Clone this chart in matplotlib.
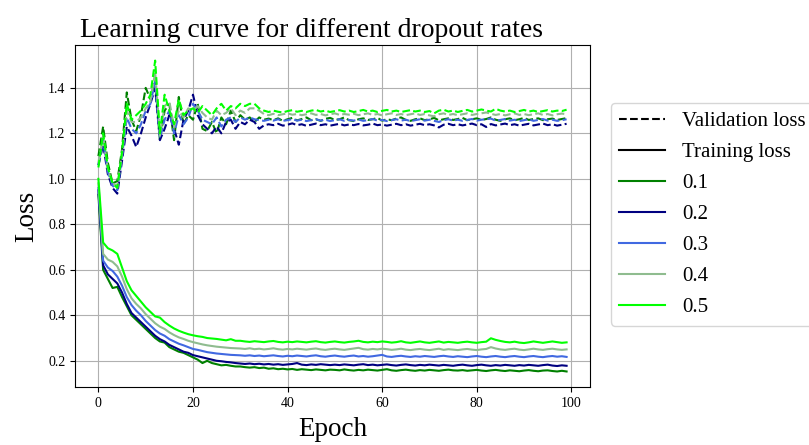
import matplotlib
matplotlib.use("Agg")
import matplotlib.pyplot as plt
from matplotlib.lines import Line2D

plt.rcParams["font.family"] = ["Liberation Serif", "DejaVu Serif"]

epochs = list(range(100))
dropout_rates = ["0.1", "0.2", "0.3", "0.4", "0.5"]
colors = ["green", "navy", "royalblue", "darkseagreen", "lime"]

# training loss per dropout rate (epochs 0-99)
train_01 = [
    0.93, 0.60, 0.56, 0.52, 0.525, 0.48, 0.44, 0.40, 0.38, 0.36,
    0.34, 0.32, 0.30, 0.285, 0.28, 0.26, 0.25, 0.24, 0.235, 0.225,
    0.215, 0.205, 0.19, 0.20, 0.19, 0.185, 0.18, 0.182, 0.178, 0.175,
    0.175, 0.172, 0.170, 0.172, 0.168, 0.170, 0.165, 0.167, 0.163, 0.165,
    0.162, 0.164, 0.160, 0.163, 0.161, 0.159, 0.162, 0.160, 0.158, 0.161,
    0.160, 0.158, 0.162, 0.159, 0.157, 0.160, 0.158, 0.161, 0.159, 0.157,
    0.160, 0.163, 0.158, 0.156, 0.159, 0.161, 0.158, 0.156, 0.159, 0.157,
    0.160, 0.158, 0.156, 0.159, 0.161, 0.158, 0.157, 0.159, 0.156, 0.158,
    0.160, 0.157, 0.155, 0.158, 0.160, 0.157, 0.155, 0.158, 0.156, 0.154,
    0.157, 0.159, 0.156, 0.154, 0.157, 0.158, 0.155, 0.153, 0.156, 0.153,
]
train_02 = [
    0.95, 0.62, 0.58, 0.56, 0.54, 0.50, 0.45, 0.41, 0.39, 0.37,
    0.35, 0.33, 0.31, 0.295, 0.285, 0.27, 0.26, 0.25, 0.24, 0.235,
    0.225, 0.22, 0.215, 0.21, 0.205, 0.20, 0.198, 0.195, 0.193, 0.19,
    0.188, 0.186, 0.188, 0.185, 0.187, 0.184, 0.186, 0.183, 0.185, 0.182,
    0.184, 0.186, 0.190, 0.183, 0.181, 0.184, 0.182, 0.185, 0.183, 0.181,
    0.183, 0.181, 0.184, 0.182, 0.180, 0.183, 0.185, 0.181, 0.183, 0.180,
    0.182, 0.184, 0.181, 0.179, 0.182, 0.184, 0.181, 0.179, 0.182, 0.180,
    0.183, 0.181, 0.179, 0.182, 0.180, 0.178, 0.181, 0.183, 0.180, 0.178,
    0.181, 0.183, 0.180, 0.178, 0.181, 0.179, 0.182, 0.180, 0.178, 0.181,
    0.179, 0.182, 0.180, 0.178, 0.181, 0.183, 0.179, 0.177, 0.180, 0.178,
]
train_03 = [
    0.96, 0.64, 0.61, 0.595, 0.57, 0.53, 0.48, 0.445, 0.42, 0.40,
    0.375, 0.355, 0.335, 0.32, 0.31, 0.295, 0.285, 0.275, 0.268, 0.26,
    0.252, 0.248, 0.243, 0.238, 0.235, 0.232, 0.23, 0.228, 0.226, 0.225,
    0.224, 0.222, 0.224, 0.221, 0.223, 0.220, 0.222, 0.224, 0.221, 0.219,
    0.222, 0.220, 0.223, 0.221, 0.219, 0.222, 0.224, 0.220, 0.218, 0.221,
    0.223, 0.220, 0.218, 0.221, 0.223, 0.219, 0.221, 0.218, 0.220, 0.223,
    0.226, 0.219, 0.217, 0.220, 0.222, 0.219, 0.217, 0.220, 0.218, 0.221,
    0.219, 0.217, 0.220, 0.222, 0.219, 0.217, 0.220, 0.218, 0.216, 0.219,
    0.221, 0.218, 0.216, 0.219, 0.221, 0.218, 0.216, 0.219, 0.221, 0.218,
    0.216, 0.219, 0.221, 0.218, 0.216, 0.219, 0.221, 0.218, 0.220, 0.217,
]
train_04 = [
    0.98, 0.67, 0.645, 0.635, 0.615, 0.57, 0.515, 0.475, 0.45, 0.43,
    0.405, 0.385, 0.365, 0.35, 0.34, 0.325, 0.313, 0.303, 0.296, 0.288,
    0.282, 0.277, 0.272, 0.268, 0.265, 0.262, 0.26, 0.258, 0.256, 0.255,
    0.254, 0.252, 0.255, 0.251, 0.253, 0.250, 0.252, 0.255, 0.251, 0.249,
    0.252, 0.250, 0.253, 0.251, 0.249, 0.252, 0.254, 0.250, 0.248, 0.251,
    0.253, 0.250, 0.248, 0.251, 0.254, 0.257, 0.251, 0.249, 0.252, 0.250,
    0.253, 0.251, 0.248, 0.250, 0.253, 0.249, 0.247, 0.250, 0.252, 0.249,
    0.247, 0.250, 0.253, 0.248, 0.251, 0.249, 0.247, 0.250, 0.252, 0.249,
    0.247, 0.250, 0.252, 0.260, 0.254, 0.250, 0.248, 0.251, 0.253, 0.249,
    0.247, 0.250, 0.253, 0.250, 0.248, 0.251, 0.253, 0.250, 0.248, 0.250,
]
train_05 = [
    1.00, 0.72, 0.695, 0.685, 0.67, 0.61, 0.55, 0.51, 0.485, 0.46,
    0.435, 0.415, 0.395, 0.39, 0.37, 0.355, 0.342, 0.332, 0.324, 0.317,
    0.312, 0.308, 0.305, 0.30, 0.298, 0.296, 0.293, 0.29, 0.295, 0.288,
    0.288, 0.285, 0.283, 0.286, 0.284, 0.282, 0.285, 0.287, 0.283, 0.281,
    0.284, 0.282, 0.285, 0.283, 0.281, 0.284, 0.286, 0.282, 0.280, 0.283,
    0.285, 0.282, 0.280, 0.283, 0.285, 0.288, 0.283, 0.281, 0.284, 0.282,
    0.285, 0.283, 0.280, 0.282, 0.286, 0.281, 0.279, 0.282, 0.285, 0.281,
    0.279, 0.282, 0.285, 0.280, 0.283, 0.281, 0.279, 0.282, 0.284, 0.281,
    0.279, 0.282, 0.284, 0.299, 0.292, 0.287, 0.283, 0.281, 0.284, 0.280,
    0.278, 0.281, 0.285, 0.282, 0.279, 0.282, 0.285, 0.282, 0.279, 0.281,
]

# validation loss per dropout rate (epochs 0-99)
val_01 = [
    1.10, 1.23, 1.07, 0.98, 0.99, 1.13, 1.38, 1.26, 1.21, 1.28,
    1.40, 1.35, 1.44, 1.17, 1.30, 1.33, 1.17, 1.36, 1.24, 1.28,
    1.26, 1.33, 1.22, 1.21, 1.25, 1.20, 1.27, 1.24, 1.30, 1.25,
    1.280, 1.260, 1.270, 1.250, 1.270, 1.260, 1.265, 1.258, 1.266, 1.255,
    1.262, 1.268, 1.257, 1.263, 1.270, 1.258, 1.262, 1.255, 1.264, 1.268,
    1.259, 1.262, 1.270, 1.258, 1.254, 1.262, 1.266, 1.259, 1.262, 1.268,
    1.256, 1.262, 1.258, 1.265, 1.270, 1.259, 1.255, 1.262, 1.266, 1.258,
    1.262, 1.268, 1.257, 1.262, 1.266, 1.259, 1.263, 1.268, 1.258, 1.262,
    1.266, 1.259, 1.263, 1.270, 1.260, 1.255, 1.262, 1.266, 1.258, 1.262,
    1.268, 1.259, 1.263, 1.266, 1.258, 1.262, 1.265, 1.259, 1.263, 1.267,
]
val_02 = [
    1.06, 1.15, 1.02, 0.96, 0.935, 1.08, 1.23, 1.19, 1.14, 1.20,
    1.27, 1.33, 1.40, 1.17, 1.22, 1.28, 1.22, 1.15, 1.26, 1.30,
    1.37, 1.28, 1.24, 1.22, 1.20, 1.23, 1.20, 1.25, 1.26, 1.22,
    1.250, 1.240, 1.260, 1.250, 1.220, 1.235, 1.240, 1.236, 1.242, 1.234,
    1.238, 1.244, 1.236, 1.240, 1.233, 1.238, 1.243, 1.236, 1.240, 1.234,
    1.238, 1.242, 1.235, 1.239, 1.236, 1.241, 1.235, 1.238, 1.243, 1.236,
    1.239, 1.234, 1.238, 1.242, 1.236, 1.240, 1.234, 1.238, 1.242, 1.236,
    1.240, 1.235, 1.226, 1.238, 1.242, 1.236, 1.240, 1.235, 1.239, 1.243,
    1.236, 1.240, 1.228, 1.241, 1.235, 1.239, 1.243, 1.236, 1.240, 1.234,
    1.238, 1.242, 1.235, 1.239, 1.243, 1.236, 1.240, 1.234, 1.238, 1.242,
]
val_03 = [
    1.06, 1.17, 1.03, 0.97, 0.95, 1.10, 1.27, 1.22, 1.20, 1.24,
    1.30, 1.33, 1.43, 1.18, 1.26, 1.30, 1.20, 1.28, 1.24, 1.27,
    1.33, 1.30, 1.26, 1.25, 1.24, 1.27, 1.23, 1.26, 1.27, 1.25,
    1.270, 1.260, 1.270, 1.262, 1.258, 1.255, 1.260, 1.256, 1.262, 1.255,
    1.258, 1.263, 1.256, 1.260, 1.254, 1.258, 1.262, 1.256, 1.260, 1.254,
    1.258, 1.262, 1.255, 1.259, 1.256, 1.261, 1.255, 1.258, 1.263, 1.256,
    1.259, 1.254, 1.258, 1.262, 1.256, 1.260, 1.254, 1.258, 1.262, 1.256,
    1.260, 1.255, 1.250, 1.258, 1.262, 1.256, 1.260, 1.255, 1.259, 1.263,
    1.256, 1.260, 1.262, 1.265, 1.256, 1.259, 1.263, 1.256, 1.260, 1.254,
    1.258, 1.262, 1.255, 1.259, 1.263, 1.256, 1.260, 1.255, 1.258, 1.262,
]
val_04 = [
    1.07, 1.19, 1.04, 0.98, 0.97, 1.11, 1.30, 1.25, 1.25, 1.27,
    1.31, 1.34, 1.47, 1.19, 1.32, 1.34, 1.23, 1.30, 1.27, 1.31,
    1.30, 1.32, 1.29, 1.27, 1.26, 1.30, 1.28, 1.29, 1.31, 1.28,
    1.300, 1.290, 1.310, 1.310, 1.300, 1.285, 1.280, 1.286, 1.280, 1.284,
    1.288, 1.282, 1.285, 1.280, 1.284, 1.288, 1.281, 1.285, 1.279, 1.284,
    1.288, 1.281, 1.285, 1.282, 1.286, 1.280, 1.284, 1.288, 1.281, 1.285,
    1.279, 1.284, 1.288, 1.281, 1.285, 1.280, 1.284, 1.288, 1.281, 1.285,
    1.279, 1.275, 1.284, 1.288, 1.281, 1.285, 1.280, 1.284, 1.288, 1.281,
    1.285, 1.288, 1.292, 1.286, 1.281, 1.285, 1.279, 1.284, 1.288, 1.281,
    1.285, 1.280, 1.284, 1.288, 1.281, 1.285, 1.279, 1.284, 1.287, 1.284,
]
val_05 = [
    1.05, 1.20, 1.05, 0.98, 0.96, 1.12, 1.33, 1.26, 1.28, 1.30,
    1.33, 1.37, 1.52, 1.20, 1.37, 1.30, 1.24, 1.35, 1.28, 1.30,
    1.31, 1.29, 1.32, 1.30, 1.28, 1.31, 1.33, 1.30, 1.32, 1.31,
    1.330, 1.320, 1.330, 1.330, 1.310, 1.300, 1.294, 1.300, 1.295, 1.292,
    1.298, 1.302, 1.295, 1.299, 1.294, 1.300, 1.303, 1.296, 1.300, 1.294,
    1.298, 1.302, 1.296, 1.300, 1.294, 1.298, 1.303, 1.296, 1.300, 1.294,
    1.299, 1.303, 1.296, 1.300, 1.294, 1.298, 1.302, 1.296, 1.300, 1.294,
    1.298, 1.288, 1.300, 1.304, 1.296, 1.300, 1.294, 1.299, 1.303, 1.296,
    1.300, 1.305, 1.300, 1.296, 1.308, 1.300, 1.296, 1.300, 1.294, 1.298,
    1.303, 1.296, 1.300, 1.294, 1.298, 1.302, 1.296, 1.300, 1.298, 1.304,
]

train_losses = [train_01, train_02, train_03, train_04, train_05]
val_losses = [val_01, val_02, val_03, val_04, val_05]

fig = plt.figure(figsize=(8.09, 4.45), dpi=100)
ax = fig.add_axes([0.0927, 0.1303, 0.6366, 0.7685])

for color, tr, va in zip(colors, train_losses, val_losses):
    ax.plot(epochs, tr, color=color, linewidth=1.5)
    ax.plot(epochs, va, color=color, linestyle="--", linewidth=1.5)

ax.grid(True)
ax.set_xticks([0, 20, 40, 60, 80, 100])
ax.tick_params(labelsize=10)
ax.set_xlabel("Epoch", fontsize=19.5, labelpad=5)
ax.set_ylabel("Loss", fontsize=19.5, labelpad=6)
ax.set_title("Learning curve for different dropout rates", fontsize=20, x=0.46)

handles = [
    Line2D([], [], color="black", linestyle="--"),
    Line2D([], [], color="black"),
] + [Line2D([], [], color=c) for c in colors]
labels = ["Validation loss", "Training loss"] + dropout_rates
fig.legend(handles, labels, loc="upper left",
           bbox_to_anchor=(611 / 809, 1 - 103 / 445),
           bbox_transform=fig.transFigure, borderaxespad=0,
           fontsize=15, handlelength=2.2, labelspacing=0.55)

fig.savefig("out.png", dpi=100)
